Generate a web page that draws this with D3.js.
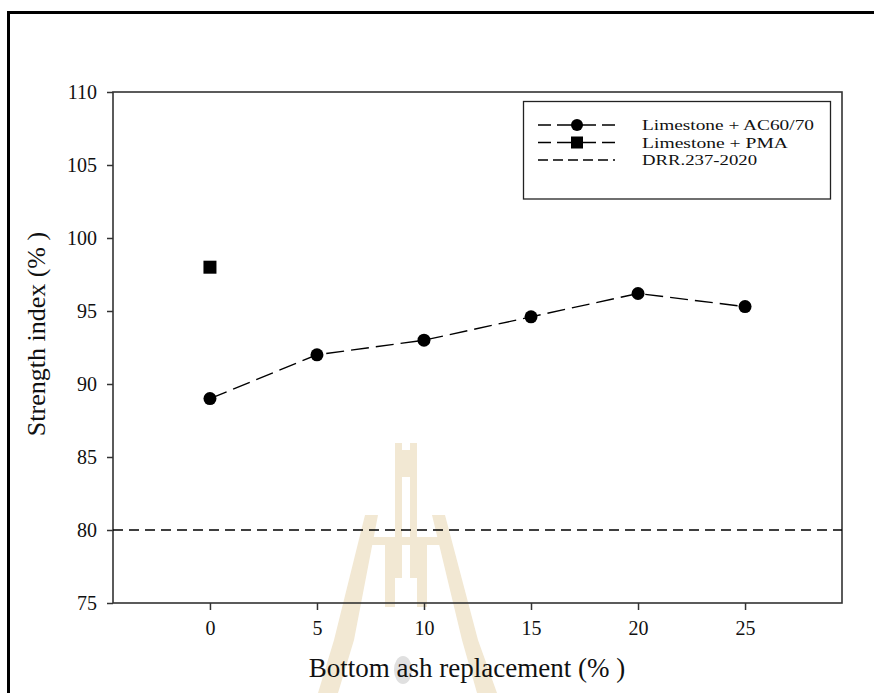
<!DOCTYPE html>
<html>
<head>
<meta charset="utf-8">
<script src="https://cdn.jsdelivr.net/npm/d3@7"></script>
<style>
  html, body { margin: 0; padding: 0; background: #fff; }
  svg { display: block; }
  text { font-family: "Liberation Serif", "Times New Roman", serif; fill: #111; }
</style>
</head>
<body>
<div id="chart"></div>
<script>
// ---- data ----
const replacement = [0, 5, 10, 15, 20, 25];
const acValues = [89.0, 92.0, 93.0, 94.6, 96.2, 95.3];
const pmaX = [0];
const pmaValues = [98.0];
const standardValue = 80;
const xTicks = [0, 5, 10, 15, 20, 25];
const yTicks = [75, 80, 85, 90, 95, 100, 105, 110];
const legendLabels = ["Limestone + AC60/70", "Limestone + PMA", "DRR.237-2020"];
const xTitle = "Bottom ash replacement (% )";
const yTitle = "Strength index (% )";

// ---- layout ----
const W = 874, H = 693;
const plot = { left: 113, right: 842, top: 92, bottom: 603 };

const svg = d3.select("#chart").append("svg").attr("width", W).attr("height", H);

// watermark (faint logo behind chart)
const wm = svg.append("g").attr("fill", "#f2e8d3");
wm.append("path").attr("d", "M365,515 L378,515 L354,640 L338,693 L318,693 L334,640 Z");
wm.append("path").attr("d", "M432,515 L445,515 L478,640 L497,693 L477,693 L462,640 Z");
wm.append("rect").attr("x", 372).attr("y", 537).attr("width", 68).attr("height", 8);
wm.append("rect").attr("x", 385).attr("y", 545).attr("width", 10).attr("height", 62);
wm.append("rect").attr("x", 417).attr("y", 545).attr("width", 10).attr("height", 62);
wm.append("rect").attr("x", 395).attr("y", 443).attr("width", 7).attr("height", 135);
wm.append("rect").attr("x", 410).attr("y", 443).attr("width", 7).attr("height", 135);
wm.append("rect").attr("x", 395).attr("y", 450).attr("width", 22).attr("height", 27);
svg.append("ellipse").attr("cx", 403).attr("cy", 670).attr("rx", 9).attr("ry", 14).attr("fill", "#e0e0e0");

// outer frame (left + top)
svg.append("path").attr("d", `M8.5,${H} L8.5,12.5 L${W},12.5`)
  .attr("fill", "none").attr("stroke", "#000").attr("stroke-width", 3);

const x = d3.scaleLinear().domain([-4.53, 29.53]).range([plot.left, plot.right]);
const y = d3.scaleLinear().domain([75, 110]).range([plot.bottom, plot.top]);

// plot frame
svg.append("rect")
  .attr("x", plot.left).attr("y", plot.top)
  .attr("width", plot.right - plot.left).attr("height", plot.bottom - plot.top)
  .attr("fill", "none").attr("stroke", "#333").attr("stroke-width", 1.6);

// axes
const xAxis = svg.append("g").attr("transform", `translate(0,${plot.bottom})`)
  .call(d3.axisBottom(x).tickValues(xTicks).tickSize(7).tickPadding(11).tickFormat(d3.format("d")));
const yAxis = svg.append("g").attr("transform", `translate(${plot.left},0)`)
  .call(d3.axisLeft(y).tickValues(yTicks).tickSize(6).tickPadding(10).tickFormat(d3.format("d")));
[xAxis, yAxis].forEach(g => {
  g.select(".domain").remove();
  g.selectAll(".tick line").attr("stroke", "#333").attr("stroke-width", 1.5);
  g.selectAll(".tick text").attr("font-family", "Liberation Serif").attr("font-size", 20).attr("fill", "#111");
});

// reference line
svg.append("line")
  .attr("x1", plot.left).attr("x2", plot.right)
  .attr("y1", y(standardValue)).attr("y2", y(standardValue))
  .attr("stroke", "#000").attr("stroke-width", 1.3).attr("stroke-dasharray", "10,6");

// AC60/70 line
const line = d3.line().x((d, i) => x(replacement[i])).y(d => y(d));
svg.append("path").datum(acValues)
  .attr("d", line).attr("fill", "none")
  .attr("stroke", "#000").attr("stroke-width", 1.4).attr("stroke-dasharray", "18,7");
svg.selectAll(".ac").data(acValues).enter().append("circle")
  .attr("cx", (d, i) => x(replacement[i])).attr("cy", d => y(d)).attr("r", 6.5).attr("fill", "#000");

// PMA points
svg.selectAll(".pma").data(pmaValues).enter().append("rect")
  .attr("x", (d, i) => x(pmaX[i]) - 6.5).attr("y", d => y(d) - 6.5)
  .attr("width", 13).attr("height", 13).attr("fill", "#000");

// legend
const lg = svg.append("g");
lg.append("rect").attr("x", 523.5).attr("y", 101.5).attr("width", 307).attr("height", 97.5)
  .attr("fill", "#fff").attr("stroke", "#222").attr("stroke-width", 1.3);
const rowsY = [125, 142.5, 160];
const legendWidths = [172, 146, 115];
legendLabels.forEach((lab, i) => {
  const yy = rowsY[i];
  lg.append("line").attr("x1", 538).attr("x2", 615).attr("y1", yy).attr("y2", yy)
    .attr("stroke", "#000").attr("stroke-width", 1.3)
    .attr("stroke-dasharray", i < 2 ? "13,6,39,6,13" : "10,5");
  if (i === 0) lg.append("circle").attr("cx", 577).attr("cy", yy).attr("r", 6).attr("fill", "#000");
  if (i === 1) lg.append("rect").attr("x", 571).attr("y", yy - 6).attr("width", 12).attr("height", 12).attr("fill", "#000");
  lg.append("text").attr("x", 642).attr("y", yy + 5).attr("font-size", 15)
    .attr("textLength", legendWidths[i]).attr("lengthAdjust", "spacingAndGlyphs").text(lab);
});

// axis titles
svg.append("text").attr("x", 467).attr("y", 677).attr("text-anchor", "middle")
  .attr("font-size", 27).text(xTitle);
svg.append("text").attr("transform", "translate(45,334) rotate(-90)").attr("text-anchor", "middle")
  .attr("font-size", 26).text(yTitle);
</script>
</body>
</html>
